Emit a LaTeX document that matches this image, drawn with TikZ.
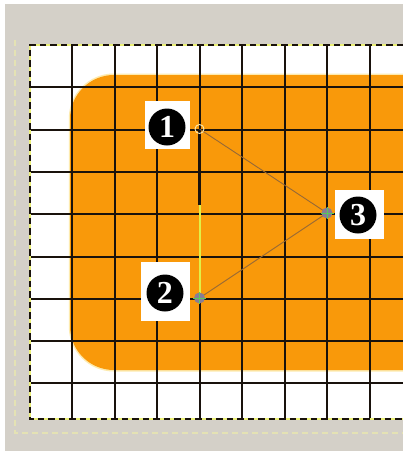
\documentclass[tikz,border=0pt]{standalone}
\usepackage{fontspec}
\setmainfont{Liberation Serif}
\begin{document}
\begin{tikzpicture}[x=1pt,y=-1pt]
\definecolor{bggray}{RGB}{212,208,200}
\definecolor{orng}{RGB}{249,153,10}
\definecolor{orngedge}{RGB}{253,235,175}
\definecolor{gridc}{RGB}{25,18,12}
\definecolor{antyel}{RGB}{235,240,120}
\definecolor{ghost}{RGB}{228,226,180}
\definecolor{edgec}{RGB}{150,105,55}
\definecolor{yelline}{RGB}{225,240,70}
\definecolor{mark}{RGB}{135,125,150}
\definecolor{markg}{RGB}{90,200,90}
\tikzset{
  gridline/.style={draw=gridc, line width=2pt},
  labelbox/.style={fill=white, draw=none, inner sep=0pt, outer sep=0pt},
  numdisk/.style={circle, fill=black, text=white, inner sep=0pt, minimum size=37pt,
    font=\fontsize{32}{32}\selectfont\bfseries},
  thinedge/.style={draw=edgec, line width=0.9pt},
  vmark/.style={circle, fill=mark, inner sep=0pt, minimum size=11pt},
}
\useasboundingbox (0,0) rectangle (403,451);
% window background
\fill[bggray] (0,0) rectangle (403,451);
\fill[white] (0,0) rectangle (403,4);
\fill[white] (0,0) rectangle (5,451);
% ghost marching ants
\draw[ghost, line width=1.5pt, dash pattern=on 6pt off 4pt] (15,40) -- (15,433) -- (403,433);
% canvas
\fill[white] (29.5,45) rectangle (403,419);
% orange rounded shape
\fill[orngedge, rounded corners=45pt] (68.8,73.5) rectangle (470,371.5);
\fill[orng, rounded corners=44pt] (70,75) rectangle (470,370);
% grid
\foreach \gx in {72,114.5,157,199.5,242,284.5,327,369.5}
  \draw[gridline] (\gx,45) -- (\gx,419);
\foreach \gy in {87.3,129.6,171.9,214.2,256.5,298.8,341.1,383.4}
  \draw[gridline] (29.5,\gy) -- (403,\gy);
% selection border
\draw[antyel, line width=2pt] (403,45) -- (29.5,45) -- (29.5,419) -- (403,419);
\draw[gridc, line width=2pt, dash pattern=on 6.5pt off 4pt] (403,45) -- (29.5,45) -- (29.5,419) -- (403,419);
% points
\coordinate (p1) at (199.5,129);
\coordinate (p2) at (199.5,298);
\coordinate (p3) at (327,213);
\coordinate (pm) at (199.5,205);
% connectors
\draw[gridc, line width=2.2pt] (p1) -- (pm);
\draw[yelline, line width=2pt] (pm) -- (p2);
\draw[thinedge] (p1) -- (p3);
\draw[thinedge] (p2) -- (p3);
% vertex markers
\draw[draw=orngedge, line width=0.9pt] (p1) circle (4.5pt);
\node[vmark] (m2) at (p2) {};
\node[vmark] (m3) at (p3) {};
\draw[markg, line width=0.8pt] (193,298) -- (206,298) (199.5,292) -- (199.5,304);
\draw[markg, line width=0.8pt] (320.5,213) -- (333.5,213) (327,207) -- (327,219);
% labels
\node[labelbox, minimum width=45pt, minimum height=48pt] (b1) at (167.5,125) {};
\node[numdisk] (n1) at (167,127) {1};
\node[labelbox, minimum width=49pt, minimum height=59pt] (b2) at (165.5,291.5) {};
\node[numdisk] (n2) at (165,293) {2};
\node[labelbox, minimum width=49pt, minimum height=49pt] (b3) at (359.5,214.5) {};
\node[numdisk] (n3) at (358,215) {3};
\end{tikzpicture}
\end{document}
